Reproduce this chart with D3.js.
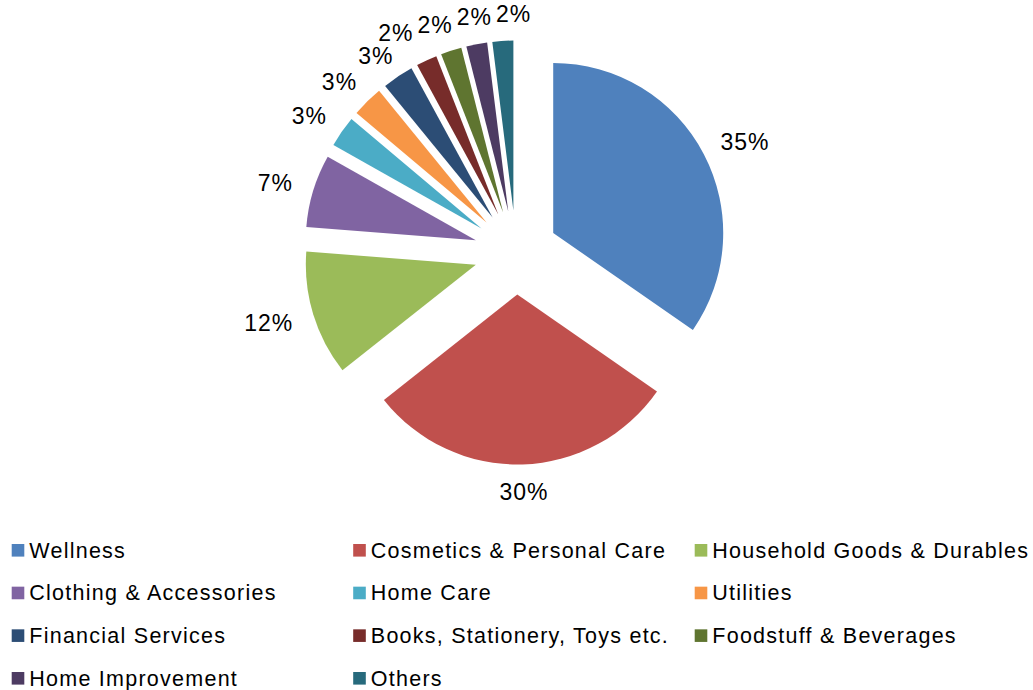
<!DOCTYPE html>
<html>
<head>
<meta charset="utf-8">
<script src="https://cdn.jsdelivr.net/npm/d3@7"></script>
<style>
  html, body { margin: 0; padding: 0; background: #ffffff; }
  svg { display: block; }
  text { font-family: "Liberation Sans", Arial, "DejaVu Sans", sans-serif; fill: #000; }
</style>
</head>
<body>
<svg id="chart" width="1033" height="690"></svg>
<script>
// Share of spending by category (percent, as labelled)
const categories = [
  "Wellness",
  "Cosmetics & Personal Care",
  "Household Goods & Durables",
  "Clothing & Accessories",
  "Home Care",
  "Utilities",
  "Financial Services",
  "Books, Stationery, Toys etc.",
  "Foodstuff & Beverages",
  "Home Improvement",
  "Others"
];
const shares = [35, 30, 12, 7, 3, 3, 3, 2, 2, 2, 2];
const sliceColors = [
  "#4F81BD", "#C0504D", "#9BBB59", "#8064A2", "#4BACC6", "#F79646",
  "#2C4D75", "#772C2A", "#5F7530", "#4D3B62", "#276A7C"
];

const cx = 516, cy = 252.5;
const radius = 170;
const explode = 42;

const svg = d3.select("#chart");

const pie = d3.pie().sort(null).value(d => d);
const arcs = pie(shares);
const arc = d3.arc().innerRadius(0).outerRadius(radius);

const color = d3.scaleOrdinal().domain(categories).range(sliceColors);

const mid = a => (a.startAngle + a.endAngle) / 2;
const unit = t => [Math.sin(t), -Math.cos(t)];

const pieG = svg.append("g").attr("transform", `translate(${cx},${cy})`);

// exploded slices: every wedge pushed out along its own bisector
pieG.selectAll("path.slice")
  .data(arcs)
  .join("path")
  .attr("class", "slice")
  .attr("d", arc)
  .attr("fill", (d, i) => color(categories[i]))
  .attr("transform", d => {
    const [ux, uy] = unit(mid(d));
    return `translate(${ux * explode},${uy * explode})`;
  });

// percentage labels just outside the outer edge of each wedge
const labels = pieG.append("g").selectAll("text")
  .data(arcs)
  .join("text")
  .attr("text-anchor", "middle")
  .attr("dy", "0.36em")
  .style("font-size", "23px")
  .style("letter-spacing", "1px")
  .text(d => d.data + "%");

const gap = 22, halfH = 5.6, boxPad = 2, boxHalfH = 11.5;
const items = arcs.map((d, i) => {
  const t = mid(d);
  const [ux, uy] = unit(t);
  const w = labels.nodes()[i].getComputedTextLength();
  const r = explode + radius + gap;
  return { w, x: ux * (r + w / 2), y: uy * (r + halfH) };
});
// keep neighbouring labels from overlapping: separate each colliding pair
// along the axis where they overlap least
for (let iter = 0; iter < 500; iter++) {
  let moved = false;
  for (let i = 0; i < items.length; i++) {
    const a = items[i], b = items[(i + 1) % items.length];
    const ox = (a.w + b.w) / 2 + 2 * boxPad - Math.abs(a.x - b.x);
    const oy = 2 * boxHalfH - Math.abs(a.y - b.y);
    if (ox > 0.01 && oy > 0.01) {
      const step = 0.25;
      if (ox < oy) {
        const s = Math.sign(b.x - a.x) || 1;
        a.x -= s * ox * step; b.x += s * ox * step;
      } else {
        const s = Math.sign(b.y - a.y) || 1;
        a.y -= s * oy * step; b.y += s * oy * step;
      }
      moved = true;
    }
  }
  if (!moved) break;
}
labels.attr("x", (d, i) => items[i].x).attr("y", (d, i) => items[i].y);

// legend: three columns, four rows
const legendX = d3.scalePoint().domain([0, 1, 2]).range([11.7, 694.7]);
const legendY = d3.scalePoint().domain([0, 1, 2, 3]).range([544, 672]);
const sw = 12.6;

const legend = svg.append("g")
  .selectAll("g")
  .data(categories)
  .join("g")
  .attr("transform", (d, i) => `translate(${legendX(i % 3)},${legendY(Math.floor(i / 3))})`);

legend.append("rect")
  .attr("width", sw)
  .attr("height", sw)
  .attr("fill", d => color(d));

legend.append("text")
  .attr("x", 17.6)
  .attr("y", sw / 2 + 7.5)
  .style("font-size", "21.5px")
  .style("letter-spacing", "1.25px")
  .text(d => d);
</script>
</body>
</html>
